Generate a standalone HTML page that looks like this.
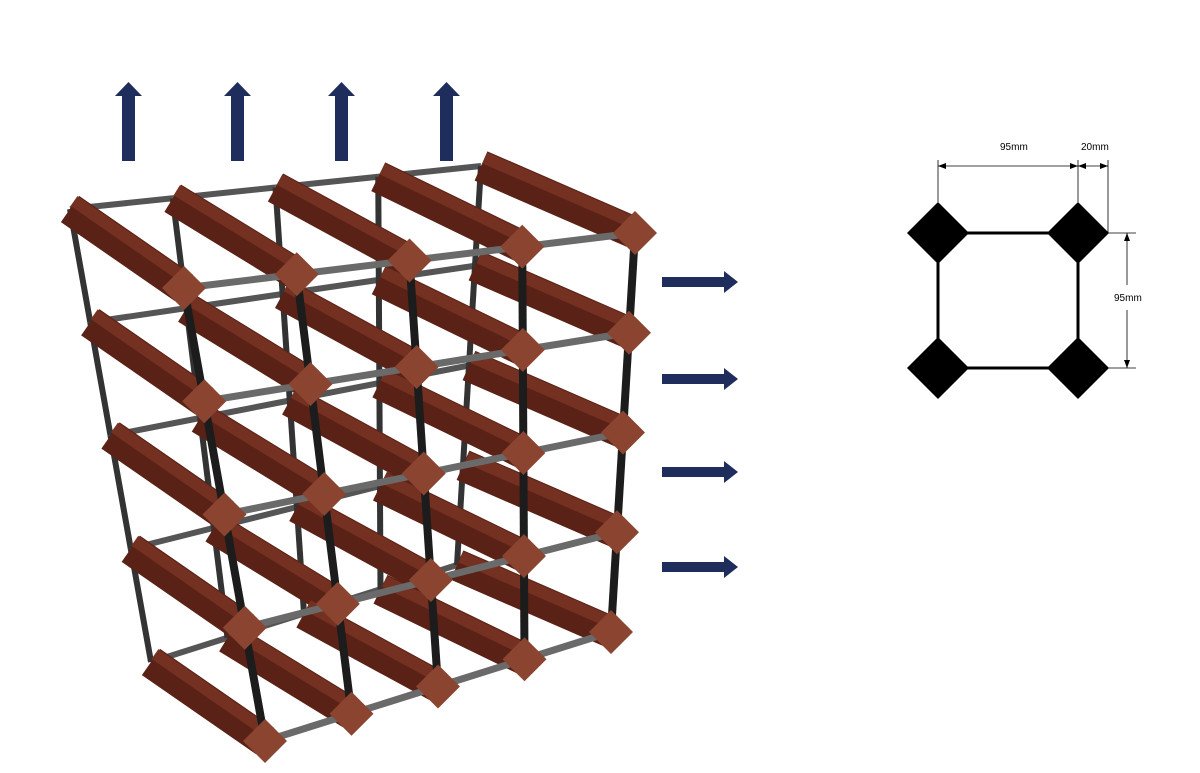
<!DOCTYPE html>
<html><head><meta charset="utf-8"><style>
html,body{margin:0;padding:0;background:#fff;width:1200px;height:773px;overflow:hidden}
svg{display:block}
text{font-family:"Liberation Sans",sans-serif;font-size:10px;fill:#000}
</style></head><body>
<svg id="s" width="1200" height="773" viewBox="0 0 1200 773" xmlns="http://www.w3.org/2000/svg">
<g id="rack"></g>
<g fill="#1f2d5c">
<rect x="122" y="95" width="13" height="66"/><polygon points="115,96 142,96 128.5,82"/>
<rect x="231" y="95" width="13" height="66"/><polygon points="224,96 251,96 237.5,82"/>
<rect x="335" y="95" width="13" height="66"/><polygon points="328,96 355,96 341.5,82"/>
<rect x="440" y="95" width="13" height="66"/><polygon points="433,96 460,96 446.5,82"/>
<rect x="662" y="277" width="63" height="10"/><polygon points="724,271 724,293 738,282"/>
<rect x="662" y="374" width="63" height="10"/><polygon points="724,368 724,390 738,379"/>
<rect x="662" y="467" width="63" height="10"/><polygon points="724,461 724,483 738,472"/>
<rect x="662" y="562" width="63" height="10"/><polygon points="724,556 724,578 738,567"/>
</g>
<g>
<rect x="938" y="233" width="140" height="135" fill="none" stroke="#000" stroke-width="3"/>
<polygon points="938,202 969,233 938,264 907,233" fill="#000"/>
<polygon points="1078,202 1109,233 1078,264 1047,233" fill="#000"/>
<polygon points="938,337 969,368 938,399 907,368" fill="#000"/>
<polygon points="1078,337 1109,368 1078,399 1047,368" fill="#000"/>
<g stroke="#000" stroke-width="0.8" fill="none">
<line x1="938" y1="160" x2="938" y2="202"/>
<line x1="1078" y1="160" x2="1078" y2="202"/>
<line x1="1108" y1="160" x2="1108" y2="233"/>
<line x1="938" y1="166" x2="1078" y2="166"/>
<line x1="1078" y1="166" x2="1108" y2="166"/>
<line x1="1108" y1="233" x2="1136" y2="233"/>
<line x1="1108" y1="368" x2="1136" y2="368"/>
<line x1="1127" y1="233" x2="1127" y2="285"/>
<line x1="1127" y1="310" x2="1127" y2="368"/>
</g>
<g fill="#000">
<polygon points="938,166 946,163 946,169"/><polygon points="1078,166 1070,163 1070,169"/>
<polygon points="1078,166 1086,163 1086,169"/><polygon points="1108,166 1100,163 1100,169"/>
<polygon points="1127,233 1124,241 1130,241"/><polygon points="1127,368 1124,360 1130,360"/>
</g>
<text x="1000" y="150">95mm</text>
<text x="1081" y="150">20mm</text>
<text x="1114" y="301">95mm</text>
</g>
</svg>
<script>
(function(){
var g=document.getElementById('rack');var NS='http://www.w3.org/2000/svg';
function el(n,a){var e=document.createElementNS(NS,n);for(var k in a)e.setAttribute(k,a[k]);g.appendChild(e);return e;}
var TL=[184,288],TR=[635,233],BL=[265,741],BR=[611,632];
function F(i,j){var u=i/4,v=j/4;return[(1-u)*(1-v)*TL[0]+u*(1-v)*TR[0]+(1-u)*v*BL[0]+u*v*BR[0],(1-u)*(1-v)*TL[1]+u*(1-v)*TR[1]+(1-u)*v*BL[1]+u*v*BR[1]];}
function B(i,j){var p=F(i,j);var u=i/4;return[p[0]-(114+40*u),p[1]-(79-12*u)];}
function line(a,b,c,w){el('line',{x1:a[0],y1:a[1],x2:b[0],y2:b[1],stroke:c,'stroke-width':w});}
var i,j;
for(j=0;j<5;j++)for(i=0;i<4;i++)line(B(i,j),B(i+1,j),'#555',6);
for(i=0;i<5;i++)for(j=0;j<4;j++)line(B(i,j),B(i,j+1),'#333',6);
for(j=0;j<5;j++)for(i=4;i>=0;i--){
 var a=B(i,j),b=F(i,j);
 line(a,b,'#5a2216',32);
 line([a[0]+4,a[1]-8],[b[0]+4,b[1]-8],'#743021',12);
}
for(j=0;j<5;j++)for(i=0;i<4;i++)line(F(i,j),F(i+1,j),'#6a6a6a',7);
for(i=0;i<5;i++)for(j=0;j<4;j++)line(F(i,j),F(i,j+1),'#1c1c1c',8);
for(j=0;j<5;j++)for(i=0;i<5;i++){var p=F(i,j),r=22;
 el('polygon',{points:(p[0])+','+(p[1]-r)+' '+(p[0]+r)+','+p[1]+' '+p[0]+','+(p[1]+r)+' '+(p[0]-r)+','+p[1],fill:'#8a4430'});}
})();
</script>
</body></html>
